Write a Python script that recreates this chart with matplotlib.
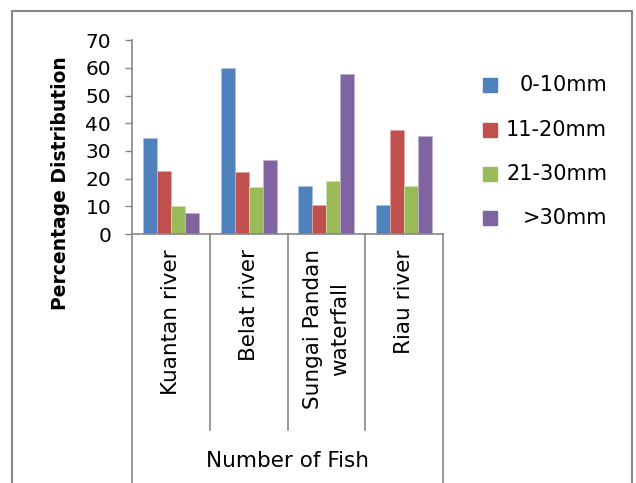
import matplotlib
matplotlib.use('Agg')
import matplotlib.pyplot as plt
from matplotlib.patches import Rectangle
from matplotlib.lines import Line2D
import numpy as np

plt.rcParams['font.family'] = ['DejaVu Sans']

# data
sites = ['Kuantan river', 'Belat river', 'Sungai Pandan\nwaterfall', 'Riau river']
series = ['0-10mm', '11-20mm', '21-30mm', '>30mm']
v_0_10 = [34.6, 60.1, 17.5, 10.4]
v_11_20 = [22.7, 22.4, 10.4, 37.5]
v_21_30 = [10.0, 17.0, 19.0, 17.2]
v_30_up = [7.5, 26.7, 57.9, 35.5]
values = [v_0_10, v_11_20, v_21_30, v_30_up]
colors = ['#4F81BD', '#C0504D', '#9BBB59', '#8064A2']
edges = ['#a9c1e0', '#e2a8a6', '#cde0ad', '#c0b2d2']

W, H = 636, 483
fig = plt.figure(figsize=(W / 100, H / 100), dpi=100)

# axes box in pixels: x 132..443, y 40..234 (from top)
ax = fig.add_axes([132 / W, 1 - 234 / H, (443 - 132) / W, (234 - 40.3) / H])

x = np.arange(len(sites))
bw = 0.18
for i, (vals, c, ec) in enumerate(zip(values, colors, edges)):
    ax.bar(x + (i - 1.5) * bw, vals, width=bw, color=c, edgecolor=ec, linewidth=0.6)

ax.set_xlim(-0.5, len(sites) - 0.5)
ax.set_ylim(0, 70)
ax.set_yticks(range(0, 71, 10))
ax.tick_params(axis='y', direction='out', length=5, width=1, color='#868686',
               labelsize=14.5, pad=10)
ax.set_xticks([])
for s in ['top', 'right']:
    ax.spines[s].set_visible(False)
for s in ['left', 'bottom']:
    ax.spines[s].set_color('#868686')
    ax.spines[s].set_linewidth(1.2)

# category separator lines below the axis (multi-level category axis)
tr = ax.get_xaxis_transform()
for b in np.arange(-0.5, len(sites), 1.0):
    ybot = -1.29 if b in (-0.5, len(sites) - 0.5) else -1.012
    ax.add_line(Line2D([b, b], [0, ybot], transform=tr, color='#868686',
                       lw=1.2, clip_on=False))

for xi, name in zip(x, sites):
    ax.text(xi, -0.08, name, transform=tr, rotation=90, ha='center', va='top',
            fontsize=15.5, linespacing=1.45, multialignment='center')

fig.text(288 / W, 1 - 461 / H, 'Number of Fish', ha='center', va='center',
         fontsize=15.5)
fig.text(61 / W, 1 - 183 / H, 'Percentage Distribution', rotation=90,
         ha='center', va='center', fontsize=13.5, fontweight='bold')

# legend drawn by hand to keep the right-aligned labels
ly = [85, 130, 174, 218]
for yy, lab, c in zip(ly, series, colors):
    fig.patches.append(Rectangle((483 / W, 1 - (yy + 7) / H), 14 / W, 14 / H,
                                 transform=fig.transFigure, color=c))
    fig.text(607 / W, 1 - yy / H, lab, ha='right', va='center', fontsize=15)

# outer chart border (no bottom edge visible)
fig.add_artist(Line2D([12 / W, 12 / W, 632 / W, 632 / W],
                      [0, 1 - 11 / H, 1 - 11 / H, 0],
                      transform=fig.transFigure, color='#878787', lw=1.5))

fig.savefig('out.png', dpi=100)
